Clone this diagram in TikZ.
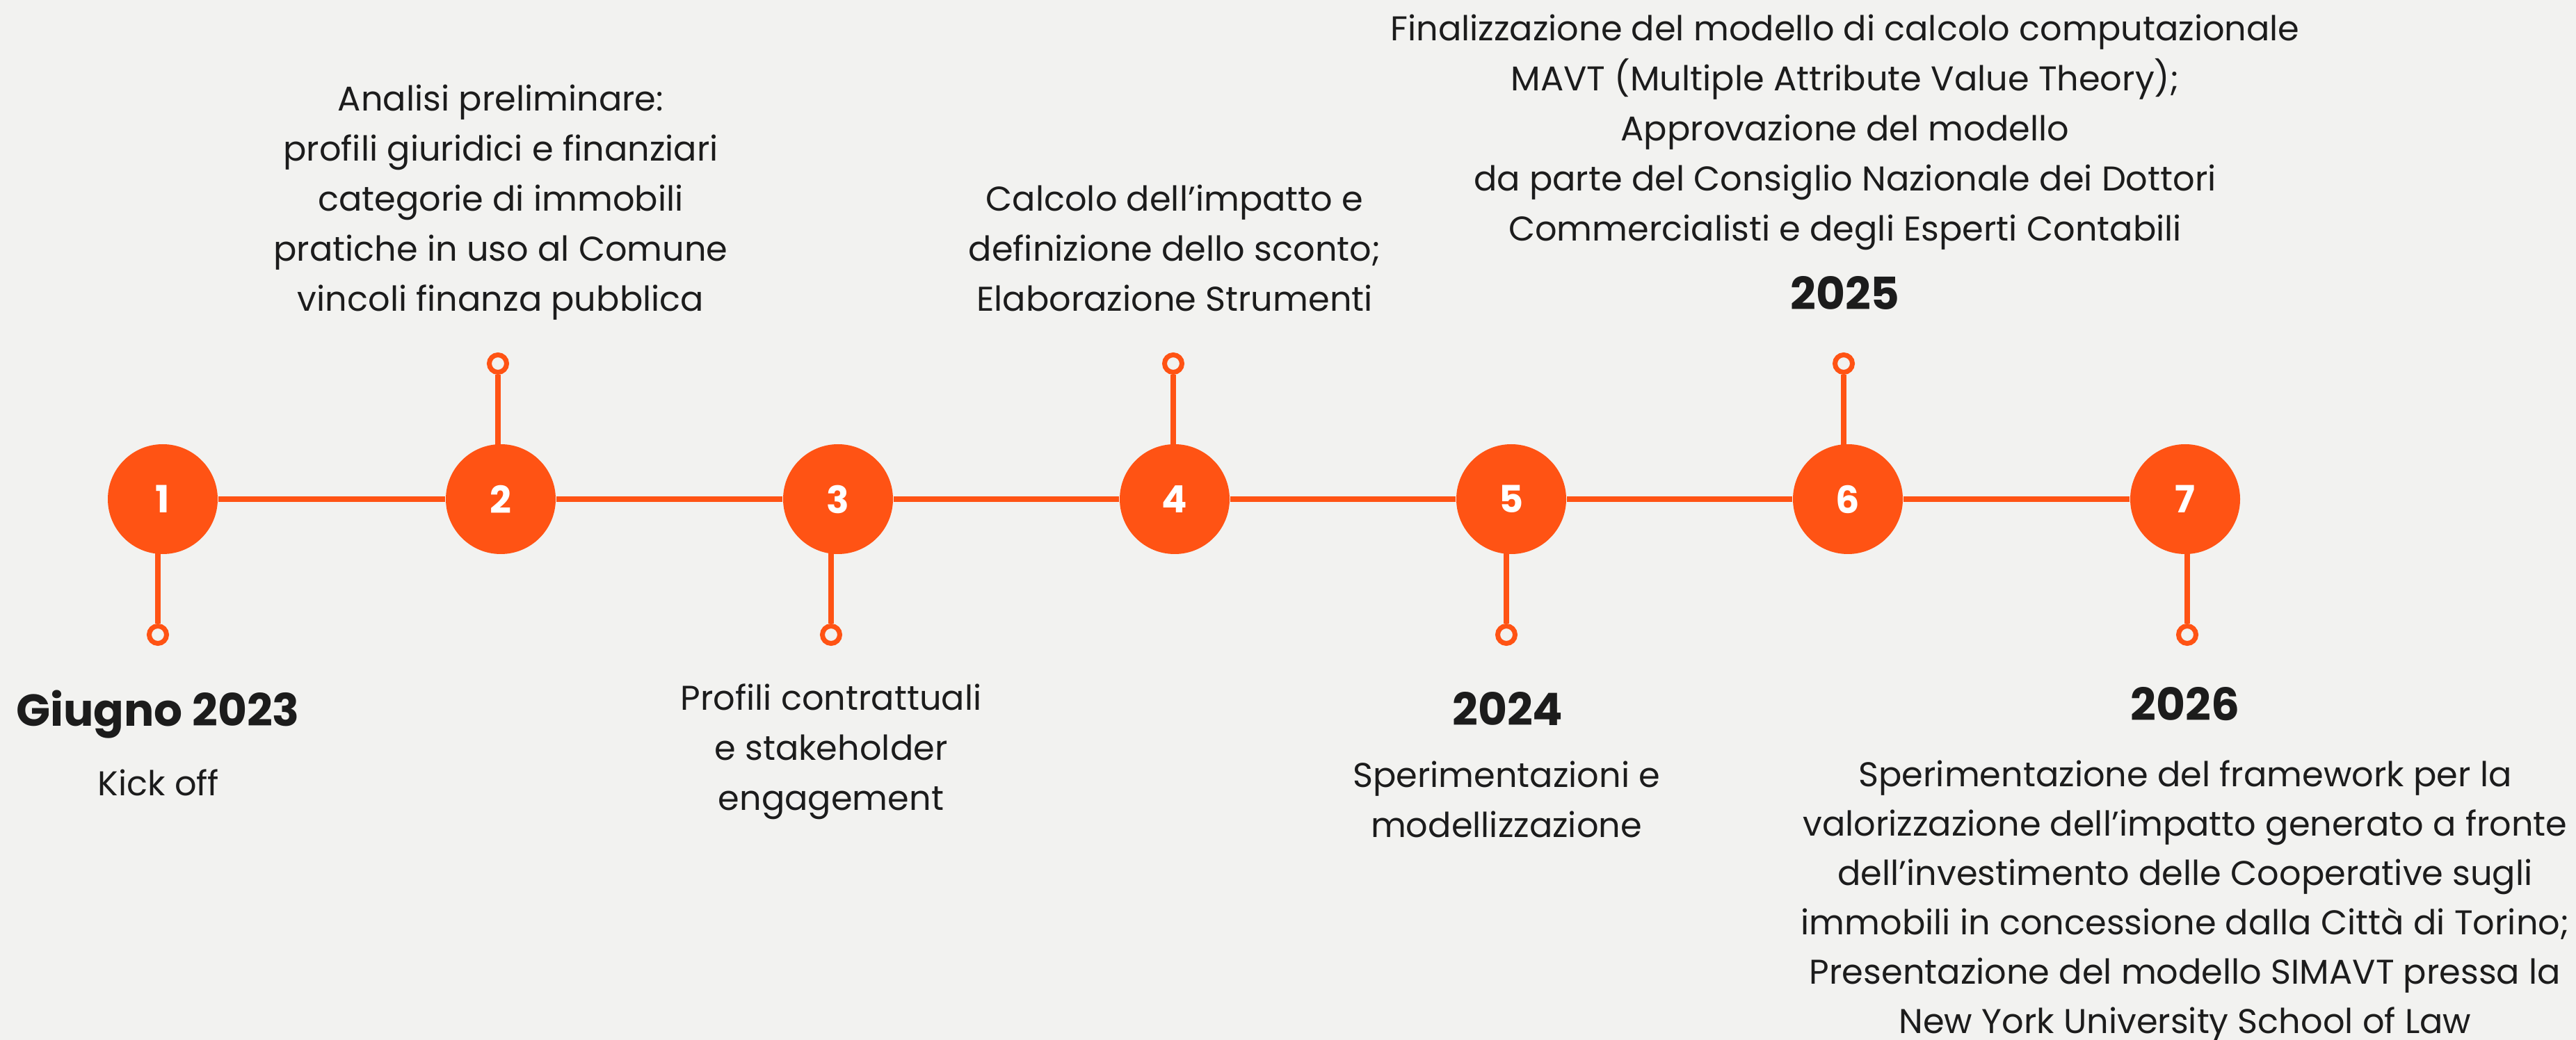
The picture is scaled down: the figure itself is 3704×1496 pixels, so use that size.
\documentclass[tikz,border=0pt]{standalone}
\usepackage{fontspec}
\setmainfont{Poppins}
\usetikzlibrary{backgrounds}
\definecolor{org}{HTML}{FF5314}
\definecolor{bgc}{HTML}{F2F2F0}
\definecolor{ink}{HTML}{1C1C1C}
\begin{document}
\begin{tikzpicture}[x=0.25pt,y=-0.25pt,
  big/.style={circle,fill=org,minimum size=39.5pt,inner sep=0pt,text=white,font=\fontsize{13.5}{14}\selectfont\bfseries},
  dot/.style={circle,draw=org,line width=1.75pt,fill=bgc,minimum size=6.25pt,inner sep=0pt},
  link/.style={draw=org,line width=2pt},
  stem/.style={draw=org,line width=1.9pt},
  body/.style={align=center,text=ink,font=\fontsize{12.35}{18}\selectfont,inner sep=0pt},
  year/.style={text=ink,font=\fontsize{16.1}{18}\selectfont\bfseries,inner sep=0pt,anchor=base}]
\useasboundingbox (0,0) rectangle (3704,1496);
% milestones
\node[big] (c1) at (234,718) {1};
\node[big] (c2) at (720,718) {2};
\node[big] (c3) at (1205,718) {3};
\node[big] (c4) at (1689,718) {4};
\node[big] (c5) at (2173,718) {5};
\node[big] (c6) at (2657,718) {6};
\node[big] (c7) at (3142,718) {7};
% end dots
\node[dot] (s1) at (227,913) {};
\node[dot] (s2) at (716,523) {};
\node[dot] (s3) at (1195,913) {};
\node[dot] (s4) at (1687,523) {};
\node[dot] (s5) at (2166,913) {};
\node[dot] (s6) at (2651,523) {};
\node[dot] (s7) at (3145,913) {};
\begin{pgfonlayer}{background}
\fill[bgc] (0,0) rectangle (3704,1496);
\draw[link] (c1) -- (c2);
\draw[link] (c2) -- (c3);
\draw[link] (c3) -- (c4);
\draw[link] (c4) -- (c5);
\draw[link] (c5) -- (c6);
\draw[link] (c6) -- (c7);
\foreach \i in {1,...,7}{\draw[stem] (s\i) -- (s\i |- c\i.center);}
\end{pgfonlayer}
% texts
\node[year] (y1) at (227,1044) {Giugno 2023};
\node[body,anchor=base] (d1) at (228,1144) {Kick off};
\node[body] (d2) at (720,291) {Analisi preliminare:\\profili giuridici e finanziari\\categorie di immobili\\pratiche in uso al Comune\\vincoli finanza pubblica};
\node[body] (d3) at (1195,1081) {Profili contrattuali\\e stakeholder\\engagement};
\node[body] (d4) at (1689,357) {Calcolo dell’impatto e\\definizione dello sconto;\\Elaborazione Strumenti};
\node[year] (y5) at (2168,1043) {2024};
\node[body] (d5) at (2166,1150) {Sperimentazioni e\\modellizzazione};
\node[body] (d6) at (2653,190) {Finalizzazione del modello di calcolo computazionale\\MAVT (Multiple Attribute Value Theory);\\Approvazione del modello\\da parte del Consiglio Nazionale dei Dottori\\Commercialisti e degli Esperti Contabili};
\node[year] (y6) at (2653,446) {2025};
\node[year] (y7) at (3142,1036) {2026};
\node[body,font=\fontsize{12.35}{17.75}\selectfont] (d7) at (3142,1296) {Sperimentazione del framework per la\\valorizzazione dell’impatto generato a fronte\\dell’investimento delle Cooperative sugli\\immobili in concessione dalla Città di Torino;\\Presentazione del modello SIMAVT pressa la\\New York University School of Law};
\end{tikzpicture}
\end{document}
